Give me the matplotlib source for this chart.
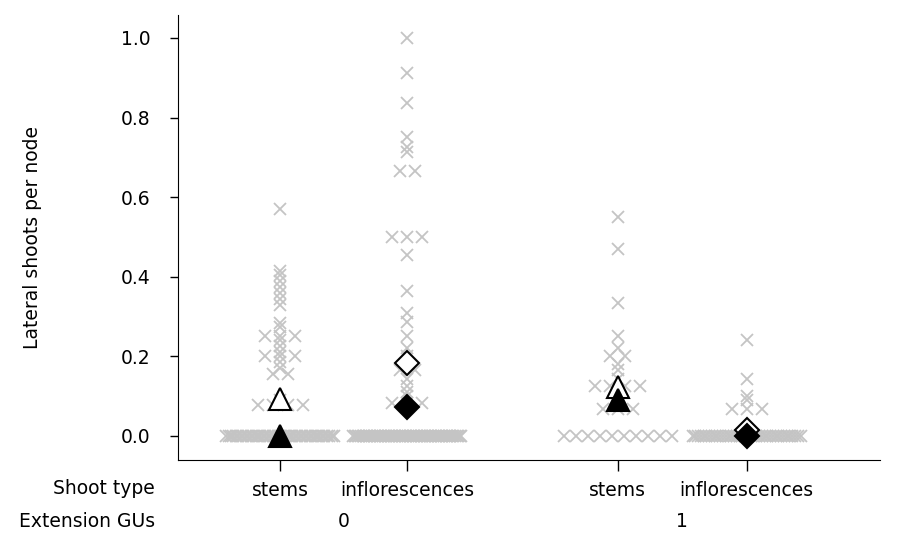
import numpy as np
import matplotlib
matplotlib.use("Agg")
import matplotlib.pyplot as plt
from matplotlib.transforms import blended_transform_factory

plt.rcParams['font.family'] = ['DejaVu Sans']
plt.rcParams['font.size'] = 13.5

# shoot types within each extension-GU class
shoot_types = ['stems', 'inflorescences', 'stems', 'inflorescences']
ext_gus = ['0', '1']
positions = [1.0, 2.0, 3.655, 4.67]

# lateral shoots per node, one list per shoot type / extension class
stems_0 = [0.57, 0.415, 0.405, 0.39, 0.375, 0.36, 0.345, 0.33, 0.285, 0.275,
           0.25, 0.25, 0.25, 0.24, 0.225, 0.21, 0.20, 0.20, 0.20, 0.185,
           0.17, 0.155, 0.155, 0.09, 0.077, 0.077, 0.077, 0.077] + [0.0] * 45
infl_0 = [1.0, 0.912, 0.837, 0.75, 0.727, 0.714, 0.667, 0.667, 0.5, 0.5,
          0.5, 0.455, 0.364, 0.308, 0.286, 0.25, 0.222, 0.2, 0.167, 0.167,
          0.143, 0.125, 0.111, 0.1, 0.083, 0.083, 0.083] + [0.0] * 70
stems_1 = [0.55, 0.47, 0.333, 0.25, 0.222, 0.2, 0.2, 0.182, 0.167, 0.143,
           0.125, 0.125, 0.125, 0.125, 0.1, 0.083, 0.067, 0.067, 0.067] + [0.0] * 10
infl_1 = [0.24, 0.143, 0.1, 0.091, 0.067, 0.067, 0.067] + [0.0] * 40

# group summaries (open = mean, filled = median)
means = [0.094, 0.183, 0.124, 0.015]
medians = [0.0, 0.073, 0.09, 0.0]
summary_markers = ['^', 'D', '^', 'D']


def swarm_offsets(vals, step=0.118, half=0.425):
    vals = np.asarray(vals)
    off = np.zeros(len(vals))
    for v in np.unique(vals):
        idx = np.where(vals == v)[0]
        n = len(idx)
        if n > 1:
            s = min(step, 2 * half / (n - 1))
            off[idx] = (np.arange(n) - (n - 1) / 2) * s
    return off


fig = plt.figure(figsize=(9.04, 5.34), dpi=100)
ax = fig.add_axes([0.197, 0.1386, 0.777, 0.8334])

groups = [stems_0, infl_0, stems_1, infl_1]
for pos, vals in zip(positions, groups):
    x = pos + swarm_offsets(vals)
    ax.plot(x, vals, linestyle='none', marker='x', ms=9, mew=1.3,
            color='#c4c4c4', zorder=2)

for pos, mk, mn, md in zip(positions, summary_markers, means, medians):
    size = 16.5 if mk == '^' else 12
    ax.plot([pos], [mn], linestyle='none', marker=mk, ms=size, mfc='white',
            mec='black', mew=1.5, zorder=3)
    ax.plot([pos], [md], linestyle='none', marker=mk, ms=size, mfc='black',
            mec='black', mew=1.5, zorder=4)

ax.set_xlim(0.197, 5.724)
ax.set_ylim(-0.0603, 1.0578)
ax.set_yticks(np.arange(0, 1.01, 0.2))
ax.set_yticklabels(['%.1f' % t for t in np.arange(0, 1.01, 0.2)])
ax.set_xticks(positions)
ax.set_xticklabels(shoot_types)
ax.tick_params(axis='y', length=6, width=1, pad=14)
ax.tick_params(axis='x', length=8, width=1, pad=7)
ax.spines['top'].set_visible(False)
ax.spines['right'].set_visible(False)

fig.text(33 / 904, 1 - 237.5 / 534, 'Lateral shoots per node', rotation=90,
         ha='center', va='center')

trans = blended_transform_factory(ax.transData, fig.transFigure)
ax.text((positions[0] + positions[1]) / 2, 0.0225, ext_gus[0], transform=trans,
        ha='center', va='center')
ax.text((positions[2] + positions[3]) / 2, 0.0225, ext_gus[1], transform=trans,
        ha='center', va='center')
fig.text(0.1715, 0.0843, 'Shoot type', ha='right', va='center')
fig.text(0.1715, 0.0225, 'Extension GUs', ha='right', va='center')

fig.savefig('out.png', dpi=100)
